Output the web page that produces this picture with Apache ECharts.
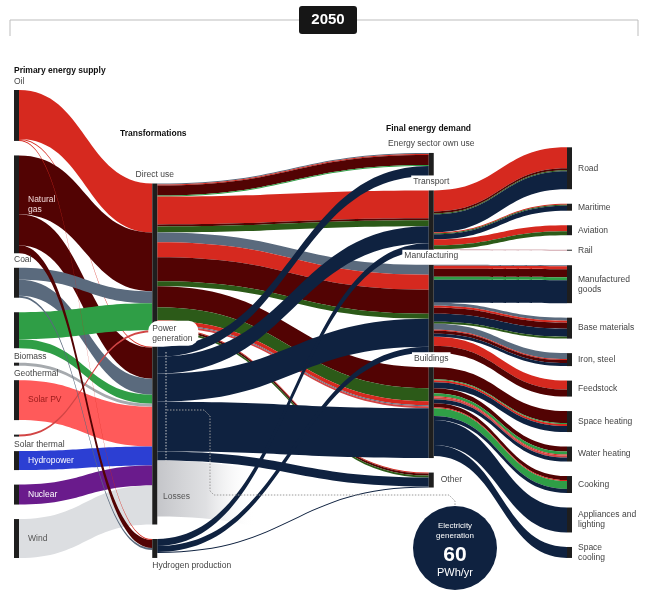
<!DOCTYPE html>
<html><head><meta charset="utf-8">
<script src="https://cdn.jsdelivr.net/npm/echarts@6/dist/echarts.min.js"></script>
<style>html,body{margin:0;padding:0;background:#fff}#c{width:648px;height:601px}</style>
</head><body><div id="c"></div>
<script>
// ---------- DATA ----------
const supplyNodes = ['Oil','Natural gas','Coal','Biomass','Geothermal','Solar PV','Solar thermal','Hydropower','Nuclear','Wind'];
const transformNodes = ['Direct use','Power generation','Hydrogen production'];
const demandNodes = ['Energy sector own use','Transport','Manufacturing','Buildings','Other','Losses'];
const endUseNodes = ['Road','Maritime','Aviation','Rail','Manufactured goods','Base materials','Iron, steel','Feedstock','Space heating','Water heating','Cooking','Appliances and lighting','Space cooling'];

// nodes whose total is larger than their drawn flows (hydrogen also takes electricity input)
const nodeTotals = [['Hydrogen production', 19]];

// [source, target, value, carrier]
const supplyFlows = [
  ['Oil','Direct use',49,'oil'],
  ['Oil','Power generation',1,'oil'],
  ['Natural gas','Direct use',59,'gas'],
  ['Natural gas','Power generation',31,'gas'],
  ['Coal','Direct use',12,'coal'],
  ['Coal','Power generation',16,'coal'],
  ['Biomass','Direct use',27,'biomass'],
  ['Biomass','Power generation',9,'biomass'],
  ['Geothermal','Power generation',3,'geothermal'],
  ['Solar PV','Power generation',40,'solarpv'],
  ['Solar thermal','Direct use',2,'solarthermal'],
  ['Hydropower','Power generation',19,'hydro'],
  ['Nuclear','Power generation',20,'nuclear'],
  ['Wind','Power generation',39,'wind'],
  ['Coal','Hydrogen production',2,'coal'],
  ['Natural gas','Hydrogen production',8,'gas'],
  ['Oil','Hydrogen production',1,'oil']
];
const directUseFlows = [
  ['Direct use','Energy sector own use',1,'coal'],
  ['Direct use','Energy sector own use',1,'oil'],
  ['Direct use','Energy sector own use',10,'gas'],
  ['Direct use','Energy sector own use',1,'biomass'],
  ['Direct use','Transport',28,'oil'],
  ['Direct use','Transport',2,'gas'],
  ['Direct use','Transport',6,'biomassDark'],
  ['Direct use','Manufacturing',10,'coal'],
  ['Direct use','Manufacturing',15,'oil'],
  ['Direct use','Manufacturing',24,'gas'],
  ['Direct use','Manufacturing',5,'biomassDark'],
  ['Direct use','Buildings',21,'gas'],
  ['Direct use','Buildings',13,'biomassDark'],
  ['Direct use','Buildings',4,'oil'],
  ['Direct use','Buildings',1,'coal'],
  ['Direct use','Buildings',2,'solarthermal'],
  ['Direct use','Other',1,'oil'],
  ['Direct use','Other',2,'gas'],
  ['Direct use','Other',2,'biomassDark']
];
const electricityFlows = [
  ['Power generation','Energy sector own use',10,'elec'],
  ['Power generation','Transport',17,'elec'],
  ['Power generation','Manufacturing',28,'elec'],
  ['Power generation','Buildings',50,'elec'],
  ['Power generation','Other',9,'elec'],
  ['Power generation','Losses',56,'losses'],
  ['Hydrogen production','Transport',7,'elec'],
  ['Hydrogen production','Manufacturing',6,'elec'],
  ['Hydrogen production','Other',1,'elec']
];
const endUseFlows = [
  ['Transport','Road',21,'oil'],
  ['Transport','Road',2,'gas'],
  ['Transport','Road',1,'biomassDark'],
  ['Transport','Road',18,'elec'],
  ['Transport','Maritime',1,'oil'],
  ['Transport','Maritime',1,'biomassDark'],
  ['Transport','Maritime',5,'elec'],
  ['Transport','Aviation',6,'oil'],
  ['Transport','Aviation',4,'biomassDark'],
  ['Transport','Rail',1,'rail'],
  ['Manufacturing','Manufactured goods',1,'coal'],
  ['Manufacturing','Manufactured goods',3,'oil'],
  ['Manufacturing','Manufactured goods',8,'gas'],
  ['Manufacturing','Manufactured goods',3,'biomass'],
  ['Manufacturing','Manufactured goods',23,'elec'],
  ['Manufacturing','Base materials',3,'coal'],
  ['Manufacturing','Base materials',2,'oil'],
  ['Manufacturing','Base materials',6,'gas'],
  ['Manufacturing','Base materials',8,'elec'],
  ['Manufacturing','Base materials',2,'biomassDark'],
  ['Manufacturing','Iron, steel',6,'coal'],
  ['Manufacturing','Iron, steel',1,'oil'],
  ['Manufacturing','Iron, steel',3,'gas'],
  ['Manufacturing','Iron, steel',3,'elec'],
  ['Manufacturing','Feedstock',9,'oil'],
  ['Manufacturing','Feedstock',7,'gas'],
  ['Buildings','Space heating',12,'gas'],
  ['Buildings','Space heating',1,'biomass'],
  ['Buildings','Space heating',2,'oil'],
  ['Buildings','Space heating',6,'elec'],
  ['Buildings','Water heating',5,'gas'],
  ['Buildings','Water heating',3,'biomass'],
  ['Buildings','Water heating',1,'oil'],
  ['Buildings','Water heating',2,'solarthermal'],
  ['Buildings','Water heating',4,'elec'],
  ['Buildings','Cooking',4,'gas'],
  ['Buildings','Cooking',1,'oil'],
  ['Buildings','Cooking',8,'biomass'],
  ['Buildings','Cooking',4,'elec'],
  ['Buildings','Appliances and lighting',25,'elec'],
  ['Buildings','Space cooling',11,'elec']
];
const electricityTotal = '60';

// ---------- STYLE ----------
const FONT = '"Liberation Sans", Arial, Helvetica, sans-serif';
const W = 648, HGT = 601, TOP = 90, BOTTOM = 43, GAP = 14.5;
const carrierColors = {
  oil:'#d6291f', gas:'#520303', coal:'#5a6a7d', biomass:'#2f9e46', biomassDark:'#2c5a18',
  geothermal:'#a6aaae', solarpv:'#ff5a5a', solarthermal:'#d24545', hydro:'#2c3fd3',
  nuclear:'#6a1b8c', wind:'#dcdee1', elec:'#0f2240', rail:'#cfa3aa',
  losses:{type:'linear', x:0, y:0, x2:1, y2:0, colorStops:[
    {offset:0, color:'#c4c5c9'}, {offset:0.18, color:'rgba(215,216,219,0.8)'}, {offset:0.36, color:'rgba(255,255,255,0)'}, {offset:1, color:'rgba(255,255,255,0)'}]}
};
const lblAbove = {position:[0,-3], align:'left', verticalAlign:'bottom'};
const lblBelow = {position:[0,'100%'], align:'left', verticalAlign:'top', padding:[3,0,0,0]};
const lblInside = {position:'right', distance:9};
const labelOpts = {
  'Oil': lblAbove,
  'Natural gas': Object.assign({}, lblInside, {color:'#f2d8d8', formatter:'Natural\ngas', position:[14,'40%']}),
  'Coal': lblAbove,
  'Biomass': lblBelow,
  'Geothermal': lblBelow,
  'Solar PV': Object.assign({}, lblInside, {color:'#9a1a1a'}),
  'Solar thermal': lblBelow,
  'Hydropower': Object.assign({}, lblInside, {color:'#ffffff'}),
  'Nuclear': Object.assign({}, lblInside, {color:'#ffffff'}),
  'Wind': Object.assign({}, lblInside, {color:'#555'}),
  'Direct use': {position:'top', distance:4},
  'Power generation': {position:[-4,-1], align:'left', verticalAlign:'bottom', formatter:'Power\ngeneration', lineHeight:10,
    backgroundColor:'#fff', padding:[3,6,2,4], borderRadius:10},
  'Hydrogen production': lblBelow,
  'Energy sector own use': {position:'top', distance:4},
  'Transport': {position:'top', distance:3, backgroundColor:'#fff', padding:[1,2]},
  'Manufacturing': {position:'top', distance:3, backgroundColor:'#fff', padding:[1,2]},
  'Buildings': {position:'top', distance:3, backgroundColor:'#fff', padding:[1,2]},
  'Other': {position:'right', distance:7},
  'Losses': {show:false},
  'Manufactured goods': {formatter:'Manufactured\ngoods'},
  'Appliances and lighting': {formatter:'Appliances and\nlighting'},
  'Space cooling': {formatter:'Space\ncooling'}
};

// ---------- BUILD ----------
const allFlows = [...supplyFlows, ...directUseFlows, ...electricityFlows, ...endUseFlows];
const inSum = {}, outSum = {};
allFlows.forEach(([s,t,v]) => { outSum[s] = (outSum[s]||0) + v; inSum[t] = (inSum[t]||0) + v; });
const totalMap = Object.fromEntries(nodeTotals);
const nodeValue = n => Math.max(inSum[n]||0, outSum[n]||0, totalMap[n]||0);
const colSum = list => list.reduce((a,n) => a + nodeValue(n), 0);

// columns are bottom-aligned with the first column (layout helper, computed from the data)
const columns = [[supplyNodes,0],[transformNodes,1],[demandNodes,3],[endUseNodes,4]];
const layoutH = HGT - TOP - BOTTOM;
const sum0 = colSum(supplyNodes), n0 = supplyNodes.length;
const ky = (layoutH - (n0 - 1) * GAP) / sum0;

const nodes = [];
columns.forEach(([list, depth], ci) => {
  if (ci > 0) {
    const pad = sum0 - colSum(list) + ((n0 - 1) - list.length) * GAP / ky - 0.05;
    if (pad > 0) nodes.push({name:'__align' + ci, depth, value:pad,
      itemStyle:{color:'rgba(0,0,0,0)'}, label:{show:false}, tooltip:{show:false}});
  }
  list.forEach(name => {
    const hidden = name === 'Losses';
    nodes.push({
      name, depth,
      value: totalMap[name],
      itemStyle: {color: hidden ? 'rgba(0,0,0,0)' : '#1e1e1e', borderWidth:0},
      label: Object.assign({show:true, color:'#444', fontSize:8.5, fontFamily:FONT, lineHeight:10, distance:6}, labelOpts[name] || {})
    });
  });
});
const links = allFlows.map(([s,t,v,c]) => ({
  source:s, target:t, value:v, lineStyle:{color:carrierColors[c], opacity:1, curveness:0.5}
}));

const chart = echarts.init(document.getElementById('c'), null, {renderer:'canvas'});
const txt = (x, y, text, extra) => ({type:'text', left:x, top:y, z:100, silent:true,
  style:Object.assign({text, fill:'#111', font:'bold 8.5px ' + FONT}, extra || {})});
chart.setOption({
  backgroundColor:'#fff',
  animation:false,
  series:[{
    type:'sankey',
    left:14, right:76, top:TOP, bottom:BOTTOM,
    nodeWidth:5, nodeGap:GAP,
    nodeAlign:'left',
    layoutIterations:0,
    draggable:false,
    emphasis:{disabled:true},
    data:nodes,
    links:links
  }],
  graphic:[
    {type:'polyline', z:100, silent:true, shape:{points:[[10,36],[10,20],[299,20]]}, style:{stroke:'#bdbdbd', lineWidth:1, fill:null}},
    {type:'polyline', z:100, silent:true, shape:{points:[[357,20],[638,20],[638,36]]}, style:{stroke:'#bdbdbd', lineWidth:1, fill:null}},
    {type:'rect', z:100, silent:true, shape:{x:299, y:6, width:58, height:28, r:3}, style:{fill:'#161616'}},
    {type:'text', z:101, silent:true, style:{x:328, y:20, text:'2050', fill:'#fff', font:'bold 15px ' + FONT, align:'center', verticalAlign:'middle'}},
    txt(14, 66, 'Primary energy supply'),
    txt(120, 129, 'Transformations'),
    txt(386, 124, 'Final energy demand'),
    {type:'text', z:100, silent:true, style:{x:163, y:497, text:'Losses', fill:'#555', font:'8.5px ' + FONT, verticalAlign:'middle'}},
    {type:'polyline', z:100, silent:true, shape:{points:[[166,352],[166,466]]}, style:{stroke:'#c8c8c8', lineWidth:1, lineDash:[1.5,1.5], fill:null}},
    {type:'polyline', z:100, silent:true, shape:{points:[[167,410],[204,410],[210,416],[210,491],[214,495],[449,495],[455,501],[455,506]]}, style:{stroke:'#9a9a9a', lineWidth:1, lineDash:[1.5,1.5], fill:null}},
    {type:'circle', z:100, silent:true, shape:{cx:455, cy:548, r:42}, style:{fill:'#0f2240'}},
    {type:'text', z:101, silent:true, style:{x:455, y:531, text:'Electricity\ngeneration', fill:'#fff', font:'8px ' + FONT, align:'center', verticalAlign:'middle', lineHeight:9.5}},
    {type:'text', z:101, silent:true, style:{x:455, y:555, text:electricityTotal, fill:'#fff', font:'bold 21px ' + FONT, align:'center', verticalAlign:'middle'}},
    {type:'text', z:101, silent:true, style:{x:455, y:573, text:'PWh/yr', fill:'#fff', font:'11px ' + FONT, align:'center', verticalAlign:'middle'}}
  ]
});
</script></body></html>
